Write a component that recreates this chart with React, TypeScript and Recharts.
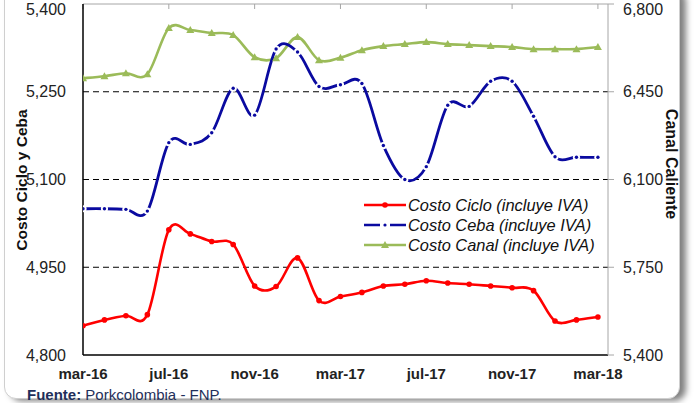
import React from "react";
import { ComposedChart, Line, XAxis, YAxis, ReferenceLine } from "recharts";

// monthly values, mar-16 .. mar-18
const months = [
  "mar-16", "abr-16", "may-16", "jun-16", "jul-16", "ago-16", "sep-16", "oct-16", "nov-16", "dic-16",
  "ene-17", "feb-17", "mar-17", "abr-17", "may-17", "jun-17", "jul-17", "ago-17", "sep-17", "oct-17",
  "nov-17", "dic-17", "ene-18", "feb-18", "mar-18",
];
const costoCiclo = [
  4850, 4860, 4867, 4869, 5014, 5007, 4994, 4989, 4918, 4917, 4966, 4893, 4900, 4907, 4918, 4921, 4927,
  4923, 4921, 4918, 4915, 4910, 4858, 4860, 4865,
];
const costoCeba = [
  5050, 5050, 5049, 5046, 5163, 5160, 5180, 5256, 5210, 5323, 5318, 5259, 5262, 5264, 5158, 5100, 5122,
  5227, 5225, 5268, 5268, 5208, 5139, 5138, 5138,
];
const costoCanal = [
  6504, 6512, 6524, 6520, 6704, 6696, 6684, 6676, 6588, 6584, 6668, 6576, 6586, 6616, 6632, 6640, 6648,
  6640, 6636, 6632, 6628, 6620, 6620, 6620, 6628,
];
const xTicks = [0, 4, 8, 12, 16, 20, 24];
const leftTicks = [4800, 4950, 5100, 5250, 5400];
const rightTicks = [5400, 5750, 6100, 6450, 6800];
const gridValues = [4950, 5100, 5250];

const legendItems = [
  { name: "Costo Ciclo (incluye IVA)", color: "#ff0000", kind: "circle" },
  { name: "Costo Ceba (incluye IVA)", color: "#0a0aa0", kind: "dot" },
  { name: "Costo Canal (incluye IVA)", color: "#9bbb59", kind: "tri" },
];

const data = months.map((m, i) => ({
  i,
  month: m,
  ciclo: costoCiclo[i],
  ceba: costoCeba[i],
  canal: costoCanal[i],
}));

const FONT = '"Liberation Sans", Arial, sans-serif';

// Excel-like smoothed line (Catmull-Rom through the points)
function excelCurve(context: any) {
  let xs: number[] = [];
  let ys: number[] = [];
  return {
    areaStart() {},
    areaEnd() {},
    lineStart() {
      xs = [];
      ys = [];
    },
    point(x: number, y: number) {
      xs.push(+x);
      ys.push(+y);
    },
    lineEnd() {
      const n = xs.length;
      if (!n) return;
      context.moveTo(xs[0], ys[0]);
      for (let k = 0; k < n - 1; k++) {
        const a = Math.max(k - 1, 0);
        const d = Math.min(k + 2, n - 1);
        context.bezierCurveTo(
          xs[k] + (xs[k + 1] - xs[a]) / 6,
          ys[k] + (ys[k + 1] - ys[a]) / 6,
          xs[k + 1] - (xs[d] - xs[k]) / 6,
          ys[k + 1] - (ys[d] - ys[k]) / 6,
          xs[k + 1],
          ys[k + 1]
        );
      }
    },
  };
}

const RedDot = (p: any) => <circle cx={p.cx} cy={p.cy} r={2.8} fill="#ff0000" />;
const BlueDot = (p: any) => (
  <g>
    <circle cx={p.cx} cy={p.cy} r={3.6} fill="#fff" />
    <circle cx={p.cx} cy={p.cy} r={1.7} fill="#0a0aa0" />
  </g>
);
const TriDot = (p: any) => (
  <path d={`M${p.cx},${p.cy - 4}L${p.cx + 4},${p.cy + 3}L${p.cx - 4},${p.cy + 3}Z`} fill="#9bbb59" />
);

function Swatch({ color, kind }: { color: string; kind: string }) {
  return (
    <svg width={42} height={12} style={{ display: "block" }}>
      <line x1={0} y1={6} x2={42} y2={6} stroke={color} strokeWidth={2.5} />
      {kind === "circle" && <circle cx={21} cy={6} r={2.8} fill={color} />}
      {kind === "dot" && (
        <g>
          <rect x={16} y={3} width={10} height={6} fill="#fff" />
          <circle cx={21} cy={6} r={1.6} fill={color} />
        </g>
      )}
      {kind === "tri" && <path d="M21,2L25,9L17,9Z" fill={color} />}
    </svg>
  );
}

export default function App() {
  return (
    <div style={{ position: "relative", width: 695, height: 403, overflow: "hidden", background: "#fff", fontFamily: FONT }}>
      <style>{`body{margin:0}`}</style>
      <div
        style={{
          position: "absolute",
          left: 4,
          top: -12,
          width: 676,
          height: 411,
          boxSizing: "border-box",
          border: "1px solid #cfcfcf",
          borderRadius: 12,
          boxShadow: "6px 2px 6px rgba(0,0,0,0.5)",
          background: "#fff",
        }}
      />
      <div style={{ position: "absolute", left: 0, top: 0 }}>
        <ComposedChart width={695} height={403} data={data} margin={{ top: 0, right: 0, bottom: 0, left: 0 }}>
          <XAxis
            xAxisId="bottom"
            dataKey="i"
            type="number"
            domain={[0, 24.47]}
            ticks={xTicks}
            allowDataOverflow
            height={48}
            tickLine={false}
            tickSize={6}
            tickMargin={7}
            axisLine={{ stroke: "#000", strokeWidth: 1.5 }}
            tickFormatter={(v: number) => months[v]}
            tick={{ fontSize: 15, fontWeight: 700, fill: "#222", fontFamily: FONT }}
          />
          <XAxis
            xAxisId="top"
            orientation="top"
            dataKey="i"
            type="number"
            domain={[0, 24.47]}
            ticks={xTicks}
            allowDataOverflow
            height={4}
            tickSize={-5}
            tickFormatter={() => ""}
            axisLine={{ stroke: "#a6a6a6" }}
            tickLine={{ stroke: "#a6a6a6" }}
          />
          <YAxis
            yAxisId="left"
            domain={[4800, 5400]}
            ticks={leftTicks}
            width={83}
            tickLine={false}
            tickMargin={11}
            axisLine={{ stroke: "#000", strokeWidth: 1.5 }}
            tickFormatter={(v: number) => v.toLocaleString("en-US")}
            tick={{ fontSize: 16, fill: "#222", fontFamily: FONT }}
          />
          <YAxis
            yAxisId="right"
            orientation="right"
            domain={[5400, 6800]}
            ticks={rightTicks}
            width={87}
            tickSize={6}
            tickMargin={9}
            axisLine={{ stroke: "#a6a6a6" }}
            tickLine={{ stroke: "#a6a6a6" }}
            tickFormatter={(v: number) => v.toLocaleString("en-US")}
            tick={{ fontSize: 16, fill: "#222", fontFamily: FONT }}
          />
          {gridValues.map((v) => (
            <ReferenceLine key={v} y={v} yAxisId="left" xAxisId="bottom" stroke="#000" strokeDasharray="6 4" />
          ))}
          <Line
            xAxisId="bottom"
            yAxisId="right"
            dataKey="canal"
            type={excelCurve as any}
            stroke="#9bbb59"
            strokeWidth={2.6}
            dot={TriDot}
            activeDot={false}
            isAnimationActive={false}
          />
          <Line
            xAxisId="bottom"
            yAxisId="left"
            dataKey="ceba"
            type={excelCurve as any}
            stroke="#0a0aa0"
            strokeWidth={2.8}
            dot={BlueDot}
            activeDot={false}
            isAnimationActive={false}
          />
          <Line
            xAxisId="bottom"
            yAxisId="left"
            dataKey="ciclo"
            type={excelCurve as any}
            stroke="#ff0000"
            strokeWidth={2.6}
            dot={RedDot}
            activeDot={false}
            isAnimationActive={false}
          />
        </ComposedChart>
      </div>

      {/* legend */}
      <div style={{ position: "absolute", left: 364, top: 195 }}>
        {legendItems.map((it) => (
          <div key={it.name} style={{ display: "flex", alignItems: "center", height: 20 }}>
            <Swatch color={it.color} kind={it.kind} />
            <span style={{ marginLeft: 2, fontStyle: "italic", fontSize: 16.4, color: "#111", whiteSpace: "nowrap" }}>
              {it.name}
            </span>
          </div>
        ))}
      </div>

      {/* axis titles */}
      <div
        style={{
          position: "absolute",
          left: 22,
          top: 180,
          transform: "translate(-50%,-50%) rotate(-90deg)",
          fontWeight: 700,
          fontSize: 15.5,
          color: "#111",
          whiteSpace: "nowrap",
        }}
      >
        Costo Ciclo y Ceba
      </div>
      <div
        style={{
          position: "absolute",
          left: 671,
          top: 164,
          transform: "translate(-50%,-50%) rotate(90deg)",
          fontWeight: 700,
          fontSize: 16,
          color: "#111",
          whiteSpace: "nowrap",
        }}
      >
        Canal Caliente
      </div>

      <div style={{ position: "absolute", left: 27, top: 386, fontSize: 15, color: "#1f2f5a", whiteSpace: "nowrap" }}>
        <b>Fuente:</b> Porkcolombia - FNP.
      </div>
    </div>
  );
}
